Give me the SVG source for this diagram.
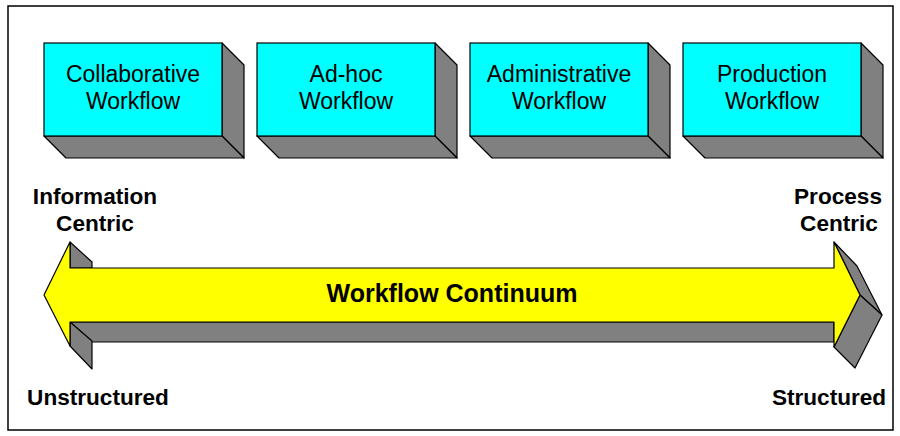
<svg xmlns="http://www.w3.org/2000/svg" width="900" height="436" viewBox="0 0 900 436">
  <style>
    .frame { fill: #ffffff; stroke: #000000; stroke-width: 1.5; }
    .face { fill: #00ffff; stroke: #000000; stroke-width: 1.2; }
    .side { fill: #808080; stroke: #000000; stroke-width: 1.2; stroke-linejoin: round; }
    .arrow { fill: #ffff00; stroke: #000000; stroke-width: 1.2; stroke-linejoin: round; }
    .box-text { font-family: "Liberation Sans", Arial, sans-serif; font-size: 23px; fill: #000000; text-anchor: middle; }
    .label { font-family: "Liberation Sans", Arial, sans-serif; font-size: 22.6px; font-weight: bold; fill: #000000; text-anchor: middle; }
    .title { font-family: "Liberation Sans", Arial, sans-serif; font-size: 25px; font-weight: bold; fill: #000000; text-anchor: middle; }
  </style>
  <defs>
    <!-- extruded workflow block: front face 178x93, depth 22 -->
    <g id="block">
      <polygon class="side" points="178,0 200,22 200,115 178,93"/>
      <polygon class="side" points="0,93 178,93 200,115 22,115"/>
      <rect class="face" x="0" y="0" width="178" height="93"/>
    </g>
  </defs>

  <rect class="frame" x="8" y="6" width="885" height="424"/>

  <g id="collaborative">
    <use href="#block" x="44" y="43"/>
    <text class="box-text" x="133" y="82">Collaborative</text>
    <text class="box-text" x="133" y="108.5">Workflow</text>
  </g>
  <g id="adhoc">
    <use href="#block" x="257" y="43"/>
    <text class="box-text" x="346" y="82">Ad-hoc</text>
    <text class="box-text" x="346" y="108.5">Workflow</text>
  </g>
  <g id="administrative">
    <use href="#block" x="470" y="43"/>
    <text class="box-text" x="559" y="82">Administrative</text>
    <text class="box-text" x="559" y="108.5">Workflow</text>
  </g>
  <g id="production">
    <use href="#block" x="683" y="43"/>
    <text class="box-text" x="772" y="82">Production</text>
    <text class="box-text" x="772" y="108.5">Workflow</text>
  </g>

  <!-- double-headed 3D continuum arrow -->
  <g id="continuum">
    <polygon class="side" points="70,242 92,262 92,268 70,268"/>
    <polygon class="side" points="70,322 834,322 834,342 92,342"/>
    <polygon class="side" points="70,322 92,341 92,369 70,346"/>
    <polygon class="side" points="834,242 857,266 882,315 860,295"/>
    <polygon class="side" points="860,295 882,315 855,368 834,347"/>
    <polygon class="arrow" points="44,295 70,242 70,268 834,268 834,242 860,295 834,347 834,322 70,322 70,346"/>
    <text class="title" x="452" y="302">Workflow Continuum</text>
  </g>

  <g id="axis-labels">
    <text class="label" x="95" y="204">Information</text>
    <text class="label" x="95" y="231">Centric</text>
    <text class="label" x="838" y="204">Process</text>
    <text class="label" x="839" y="231">Centric</text>
    <text class="label" x="98" y="405">Unstructured</text>
    <text class="label" x="829" y="405">Structured</text>
  </g>
</svg>
